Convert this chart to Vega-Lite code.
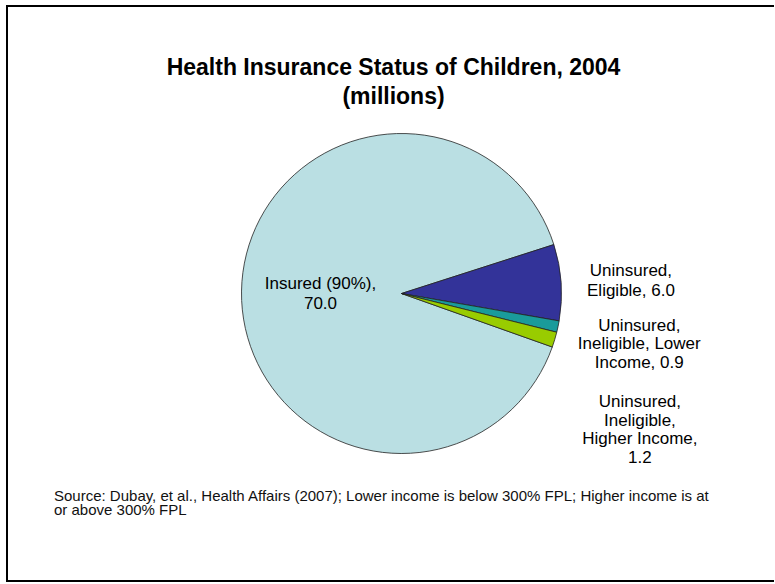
{
  "$schema": "https://vega.github.io/schema/vega-lite/v6.json",
  "background": "white",
  "padding": {"left": 6, "top": 5, "right": 0, "bottom": 2},
  "title": {
    "text": ["Health Insurance Status of Children, 2004", "(millions)"],
    "font": "Liberation Sans",
    "fontSize": 23,
    "fontWeight": "bold",
    "lineHeight": 29,
    "color": "black",
    "anchor": "middle",
    "baseline": "top",
    "offset": -104,
    "dx": 3
  },
  "vconcat": [
    {
      "title": {
        "text": ["Source: Dubay, et al., Health Affairs (2007); Lower income is below 300% FPL; Higher income is at", "or above 300% FPL"],
        "orient": "bottom",
        "anchor": "start",
        "frame": "group",
        "font": "Liberation Sans",
        "fontSize": 15,
        "fontWeight": "normal",
        "lineHeight": 14,
        "color": "#111111",
        "baseline": "top",
        "offset": -93,
        "dx": 47
      },
      "width": 767,
      "height": 575,
      "view": {"stroke": "transparent", "strokeWidth": 0},
      "layer": [
        {
          "data": {"values": [{"frame": "border"}]},
          "mark": {"type": "rect", "fill": null, "stroke": "black", "strokeWidth": 2, "strokeDash": [767, 575, 1342, 20]},
          "encoding": {}
        },
        {
          "data": {
            "values": [
              {"cat": "Insured", "v": 70.0, "k": 1, "label": "Insured (90%),\n70.0"},
              {"cat": "Uninsured, Eligible", "v": 6.0, "k": 2, "label": "Uninsured,\nEligible, 6.0"},
              {"cat": "Uninsured, Ineligible, Lower Income", "v": 0.9, "k": 3, "label": "Uninsured,\nIneligible, Lower\nIncome, 0.9"},
              {"cat": "Uninsured, Ineligible, Higher Income", "v": 1.2, "k": 4, "label": "Uninsured,\nIneligible,\nHigher Income,\n1.2"}
            ]
          },
          "encoding": {
            "theta": {"field": "v", "type": "quantitative", "stack": true, "scale": {"range": [1.9118, 8.195]}},
            "order": {"field": "k", "type": "quantitative"}
          },
          "layer": [
            {
              "mark": {"type": "arc", "outerRadius": 160, "stroke": "#222222", "strokeWidth": 0.8, "xOffset": 11},
              "encoding": {
                "color": {
                  "field": "cat",
                  "type": "nominal",
                  "scale": {
                    "domain": ["Insured", "Uninsured, Eligible", "Uninsured, Ineligible, Lower Income", "Uninsured, Ineligible, Higher Income"],
                    "range": ["#BADFE3", "#333399", "#1A9B9B", "#99CC00"]
                  },
                  "legend": null
                }
              }
            },
            {
              "mark": {"type": "text", "radius": 81, "xOffset": 11, "dy": -8.5, "font": "Liberation Sans", "fontSize": 17, "lineHeight": 20, "lineBreak": "\n", "align": "center", "baseline": "middle", "color": "black"},
              "encoding": {
                "text": {"field": "label"},
                "opacity": {"condition": {"test": "datum.k === 1", "value": 1}, "value": 0}
              }
            },
            {
              "mark": {"type": "text", "radius": 230, "xOffset": 11, "dy": -7, "font": "Liberation Sans", "fontSize": 17, "lineHeight": 20, "lineBreak": "\n", "align": "center", "baseline": "middle", "color": "black"},
              "encoding": {
                "text": {"field": "label"},
                "opacity": {"condition": {"test": "datum.k === 2", "value": 1}, "value": 0}
              }
            },
            {
              "mark": {"type": "text", "radius": 243, "xOffset": 11, "dy": -18, "font": "Liberation Sans", "fontSize": 17, "lineHeight": 18.7, "lineBreak": "\n", "align": "center", "baseline": "middle", "color": "black"},
              "encoding": {
                "text": {"field": "label"},
                "opacity": {"condition": {"test": "datum.k === 3", "value": 1}, "value": 0}
              }
            },
            {
              "mark": {"type": "text", "radius": 249, "xOffset": 11, "dy": 36.5, "font": "Liberation Sans", "fontSize": 17, "lineHeight": 18.7, "lineBreak": "\n", "align": "center", "baseline": "middle", "color": "black"},
              "encoding": {
                "text": {"field": "label"},
                "opacity": {"condition": {"test": "datum.k === 4", "value": 1}, "value": 0}
              }
            }
          ]
        }
      ]
    }
  ],
  "config": {
    "view": {"stroke": null},
    "concat": {"spacing": 0}
  }
}
